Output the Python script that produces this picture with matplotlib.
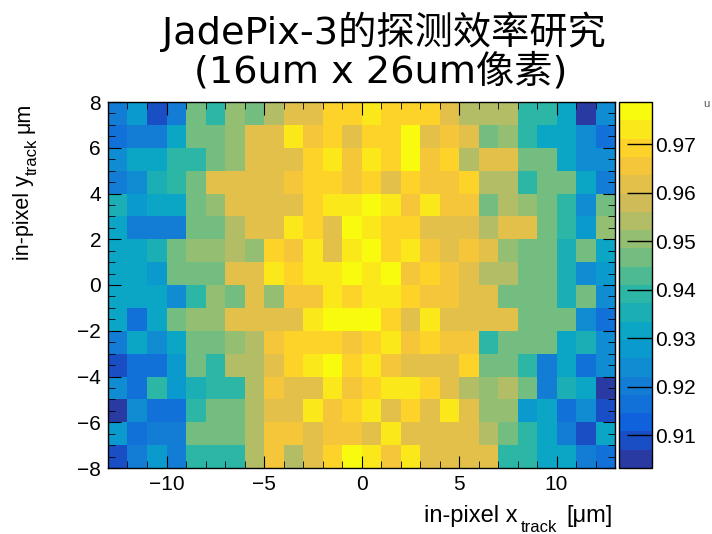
import numpy as np
import matplotlib
matplotlib.use("Agg")
import matplotlib.pyplot as plt
from matplotlib.colors import LinearSegmentedColormap, ListedColormap, BoundaryNorm
from matplotlib.ticker import MultipleLocator

plt.rcParams['font.family'] = ['Liberation Sans', 'DejaVu Sans']

W, H = 712, 534

# bin edges (um)
x_edges = np.arange(-13, 14, 1)
y_edges = np.arange(-8, 9, 1)

# efficiency per bin, rows from top (y=7.5) to bottom (y=-7.5), columns x=-12.5..12.5
eff_rows = [
    [0.922, 0.929, 0.910, 0.920, 0.945, 0.940, 0.952, 0.948, 0.956, 0.963, 0.963, 0.970, 0.970,
     0.972, 0.970, 0.970, 0.970, 0.963, 0.956, 0.956, 0.956, 0.940, 0.940, 0.931, 0.905, 0.925],
    [0.915, 0.920, 0.920, 0.930, 0.945, 0.948, 0.952, 0.960, 0.960, 0.974, 0.966, 0.970, 0.963,
     0.970, 0.970, 0.978, 0.963, 0.966, 0.963, 0.945, 0.952, 0.940, 0.931, 0.931, 0.924, 0.917],
    [0.925, 0.932, 0.932, 0.940, 0.940, 0.945, 0.952, 0.960, 0.960, 0.960, 0.970, 0.974, 0.967,
     0.973, 0.970, 0.978, 0.967, 0.970, 0.956, 0.960, 0.960, 0.948, 0.945, 0.930, 0.924, 0.924],
    [0.920, 0.923, 0.936, 0.940, 0.945, 0.960, 0.960, 0.960, 0.963, 0.966, 0.970, 0.970, 0.967,
     0.970, 0.963, 0.970, 0.967, 0.967, 0.970, 0.956, 0.956, 0.940, 0.945, 0.945, 0.930, 0.920],
    [0.937, 0.927, 0.931, 0.931, 0.945, 0.952, 0.960, 0.960, 0.963, 0.960, 0.970, 0.974, 0.974,
     0.977, 0.974, 0.967, 0.974, 0.966, 0.966, 0.948, 0.956, 0.952, 0.945, 0.940, 0.923, 0.948],
    [0.931, 0.922, 0.922, 0.922, 0.945, 0.945, 0.956, 0.963, 0.963, 0.974, 0.970, 0.963, 0.978,
     0.974, 0.970, 0.970, 0.963, 0.963, 0.963, 0.956, 0.963, 0.960, 0.945, 0.940, 0.929, 0.952],
    [0.931, 0.931, 0.935, 0.945, 0.952, 0.952, 0.956, 0.952, 0.970, 0.966, 0.974, 0.963, 0.974,
     0.977, 0.970, 0.974, 0.966, 0.963, 0.966, 0.960, 0.952, 0.948, 0.945, 0.936, 0.945, 0.931],
    [0.930, 0.931, 0.927, 0.945, 0.948, 0.948, 0.960, 0.963, 0.974, 0.970, 0.974, 0.974, 0.977,
     0.974, 0.977, 0.966, 0.970, 0.966, 0.963, 0.956, 0.956, 0.945, 0.945, 0.936, 0.924, 0.929],
    [0.931, 0.931, 0.931, 0.924, 0.940, 0.952, 0.948, 0.963, 0.952, 0.966, 0.966, 0.974, 0.970,
     0.974, 0.974, 0.970, 0.966, 0.966, 0.960, 0.960, 0.948, 0.948, 0.948, 0.936, 0.948, 0.924],
    [0.931, 0.917, 0.931, 0.948, 0.952, 0.952, 0.963, 0.960, 0.963, 0.963, 0.974, 0.978, 0.978,
     0.978, 0.970, 0.963, 0.974, 0.963, 0.960, 0.960, 0.960, 0.948, 0.945, 0.945, 0.924, 0.917],
    [0.920, 0.931, 0.923, 0.931, 0.945, 0.948, 0.952, 0.956, 0.966, 0.970, 0.970, 0.970, 0.966,
     0.970, 0.974, 0.966, 0.970, 0.966, 0.966, 0.940, 0.948, 0.945, 0.945, 0.931, 0.935, 0.924],
    [0.910, 0.917, 0.917, 0.927, 0.945, 0.940, 0.956, 0.956, 0.960, 0.970, 0.974, 0.978, 0.970,
     0.974, 0.966, 0.960, 0.963, 0.963, 0.970, 0.945, 0.948, 0.940, 0.921, 0.930, 0.917, 0.924],
    [0.925, 0.918, 0.940, 0.928, 0.935, 0.940, 0.940, 0.956, 0.966, 0.963, 0.963, 0.974, 0.966,
     0.970, 0.974, 0.974, 0.970, 0.963, 0.956, 0.952, 0.956, 0.945, 0.922, 0.935, 0.930, 0.905],
    [0.906, 0.924, 0.917, 0.918, 0.940, 0.945, 0.948, 0.956, 0.963, 0.960, 0.974, 0.966, 0.970,
     0.974, 0.960, 0.970, 0.963, 0.974, 0.960, 0.952, 0.952, 0.928, 0.931, 0.918, 0.923, 0.910],
    [0.929, 0.915, 0.920, 0.920, 0.945, 0.945, 0.945, 0.956, 0.966, 0.966, 0.963, 0.966, 0.966,
     0.963, 0.974, 0.963, 0.963, 0.963, 0.960, 0.956, 0.945, 0.940, 0.931, 0.921, 0.910, 0.931],
    [0.910, 0.921, 0.926, 0.920, 0.940, 0.940, 0.940, 0.956, 0.966, 0.956, 0.963, 0.970, 0.978,
     0.974, 0.966, 0.974, 0.963, 0.960, 0.960, 0.960, 0.940, 0.940, 0.931, 0.931, 0.920, 0.915],
]

z_min, z_max = 0.9032, 0.9787
cbar_ticks = [0.91, 0.92, 0.93, 0.94, 0.95, 0.96, 0.97]

# ROOT kBird palette
stops = [0.0, 0.125, 0.25, 0.375, 0.5, 0.625, 0.75, 0.875, 1.0]
red = [0.2082, 0.0592, 0.0780, 0.0232, 0.1802, 0.5301, 0.8186, 0.9956, 0.9764]
green = [0.1664, 0.3599, 0.5041, 0.6419, 0.7178, 0.7492, 0.7328, 0.7862, 0.9832]
blue = [0.5293, 0.8684, 0.8385, 0.7914, 0.6425, 0.4662, 0.3499, 0.1968, 0.0539]
bird = LinearSegmentedColormap.from_list(
    "bird", list(zip(stops, zip(red, green, blue))))
n_levels = 20
levels = np.linspace(z_min, z_max, n_levels + 1)
cmap = ListedColormap(bird(np.linspace(0.04, 1, n_levels)))
norm = BoundaryNorm(levels, n_levels)

eff = np.array(eff_rows)[::-1]  # bottom row first for pcolormesh

fig = plt.figure(figsize=(W/100, H/100), dpi=100)
ax = fig.add_axes([108/W, 1-468/H, (615-108)/W, (468-102)/H])
cax = fig.add_axes([619/W, 1-468/H, 33/W, (468-102)/H])

mesh = ax.pcolormesh(x_edges, y_edges, eff, cmap=cmap, norm=norm)
ax.set_xlim(-13, 13)
ax.set_ylim(-8, 8)
ax.xaxis.set_major_locator(MultipleLocator(5))
ax.xaxis.set_minor_locator(MultipleLocator(1))
ax.yaxis.set_major_locator(MultipleLocator(2))
ax.yaxis.set_minor_locator(MultipleLocator(0.5))
ax.tick_params(which='both', direction='in', top=True, right=True, labelsize=15)
ax.tick_params(axis='x', which='major', length=9, pad=5)
ax.tick_params(axis='x', which='minor', length=5)
ax.tick_params(axis='y', which='major', length=9, pad=5)
ax.tick_params(axis='y', which='minor', length=5)
for s in ax.spines.values():
    s.set_linewidth(1.0)

cb = fig.colorbar(mesh, cax=cax, ticks=cbar_ticks)
cb.set_ticklabels(["%.2f" % t for t in cbar_ticks])
cax.tick_params(direction='in', length=18, width=1, labelsize=15, pad=2)
cax.minorticks_off()
cb.outline.set_linewidth(1.0)

title_font = ['DejaVu Sans', 'Noto Sans CJK SC']
fig.text(0.539, 1-32/H, 'JadePix-3的探测效率研究', ha='center', va='center',
         fontsize=27.5, family=title_font)
fig.text(0.534, 1-72/H, '(16um x 26um像素)', ha='center', va='center',
         fontsize=27.5, family=title_font)

# x axis title, ROOT style with lowered subscript
fig.text(518/W, 1-522/H, 'in-pixel x', ha='right', va='baseline', fontsize=17)
fig.text(521/W, 1-532/H, 'track', ha='left', va='baseline', fontsize=12)
fig.text(613/W, 1-522/H, '[μm]', ha='right', va='baseline', fontsize=17)

# y axis title, rotated
rot = dict(rotation=90, rotation_mode='anchor', va='baseline', ha='left')
fig.text(29/W, 1-260/H, 'in-pixel y', fontsize=15.5, **rot)
fig.text(37/W, 1-175/H, 'track', fontsize=12, **rot)
fig.text(29/W, 1-133/H, 'μm', fontsize=15.5, **rot)

fig.text(706/W, 1-104/H, 'u', ha='center', va='center', fontsize=8, color='#555555')

fig.savefig("out.png", dpi=100)
